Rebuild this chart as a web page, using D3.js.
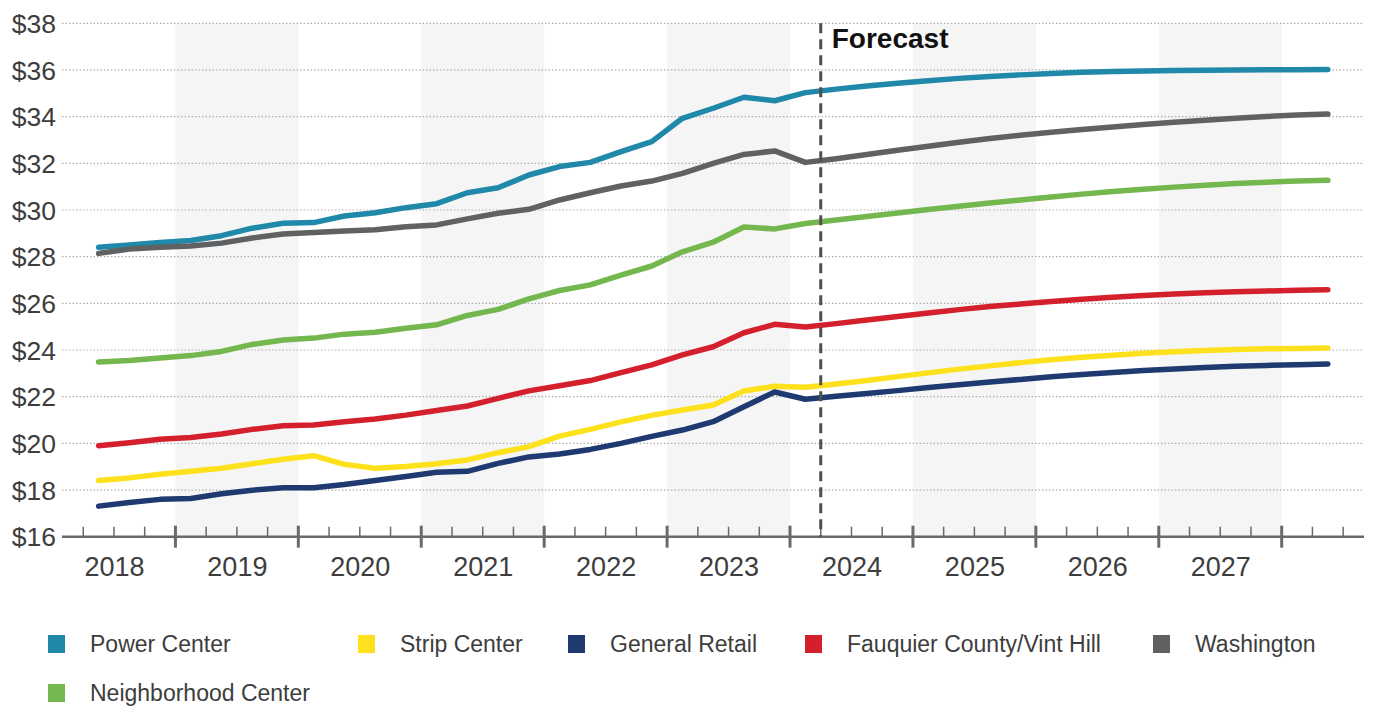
<!DOCTYPE html>
<html>
<head>
<meta charset="utf-8">
<script src="https://cdn.jsdelivr.net/npm/d3@7"></script>
<style>
  html, body { margin: 0; padding: 0; background: #fff; }
  svg { display: block; font-family: "Liberation Sans", Arial, sans-serif; }
</style>
</head>
<body>
<svg id="chart" width="1374" height="707"></svg>
<script>
// Quarterly asking rents ($/sq ft), 2018 Q2 through 2028 Q2; forecast begins after 2024 Q1
const quarters = [
  "2018 Q2","2018 Q3","2018 Q4","2019 Q1","2019 Q2","2019 Q3","2019 Q4","2020 Q1",
  "2020 Q2","2020 Q3","2020 Q4","2021 Q1","2021 Q2","2021 Q3","2021 Q4","2022 Q1",
  "2022 Q2","2022 Q3","2022 Q4","2023 Q1","2023 Q2","2023 Q3","2023 Q4","2024 Q1",
  "2024 Q2","2024 Q3","2024 Q4","2025 Q1","2025 Q2","2025 Q3","2025 Q4","2026 Q1",
  "2026 Q2","2026 Q3","2026 Q4","2027 Q1","2027 Q2","2027 Q3","2027 Q4","2028 Q1",
  "2028 Q2"
];
const yearLabels = ["2018","2019","2020","2021","2022","2023","2024","2025","2026","2027"];
const shadedYears = ["2019","2021","2023","2025","2027"];
const yTicks = [16,18,20,22,24,26,28,30,32,34,36,38];
const forecastStart = "2024 Q2";

const powerCenter = [28.40,28.50,28.61,28.69,28.90,29.22,29.43,29.46,29.74,29.88,30.10,30.27,30.74,30.95,31.50,31.86,32.04,32.50,32.93,33.93,34.36,34.83,34.68,35.03,35.18,35.31,35.43,35.54,35.64,35.72,35.79,35.85,35.90,35.93,35.96,35.98,35.99,36.00,36.01,36.01,36.02];
const stripCenter = [18.41,18.52,18.68,18.80,18.93,19.13,19.32,19.47,19.10,18.93,19.01,19.13,19.29,19.60,19.86,20.31,20.60,20.92,21.20,21.43,21.64,22.24,22.45,22.40,22.54,22.69,22.86,23.02,23.18,23.32,23.46,23.58,23.69,23.78,23.86,23.93,23.98,24.02,24.05,24.07,24.09];
const generalRetail = [17.31,17.47,17.60,17.64,17.84,17.99,18.10,18.10,18.24,18.41,18.58,18.76,18.80,19.14,19.42,19.54,19.74,20.00,20.30,20.57,20.93,21.57,22.20,21.89,22.02,22.14,22.26,22.39,22.51,22.63,22.74,22.85,22.95,23.04,23.12,23.19,23.25,23.30,23.34,23.37,23.40];
const fauquier = [19.90,20.03,20.18,20.25,20.40,20.60,20.75,20.79,20.93,21.04,21.21,21.41,21.60,21.93,22.25,22.47,22.69,23.03,23.36,23.79,24.14,24.74,25.10,24.99,25.13,25.29,25.44,25.59,25.73,25.86,25.97,26.08,26.18,26.26,26.34,26.40,26.45,26.50,26.53,26.56,26.58];
const washington = [28.14,28.33,28.40,28.46,28.58,28.80,28.97,29.04,29.10,29.15,29.28,29.36,29.62,29.86,30.03,30.43,30.74,31.03,31.24,31.57,32.00,32.38,32.53,32.04,32.20,32.38,32.56,32.73,32.90,33.06,33.20,33.33,33.45,33.56,33.66,33.76,33.85,33.93,34.01,34.07,34.11];
const neighborhood = [23.49,23.55,23.66,23.76,23.94,24.24,24.43,24.51,24.68,24.76,24.93,25.08,25.48,25.74,26.19,26.55,26.79,27.21,27.60,28.21,28.62,29.27,29.19,29.42,29.57,29.72,29.87,30.02,30.16,30.30,30.43,30.56,30.68,30.79,30.89,30.98,31.06,31.13,31.19,31.24,31.27];

const seriesNames = ["Power Center","Strip Center","General Retail","Fauquier County/Vint Hill","Washington","Neighborhood Center"];
const seriesValues = [powerCenter, stripCenter, generalRetail, fauquier, washington, neighborhood];
const seriesColors = ["#2088a9","#fde11c","#1e3a70","#d4202d","#5f6163","#75b74f"];

// ---- layout ----
const svg = d3.select("#chart");
const plotTop = 23.3, plotBottom = 536.7, axisLeft = 62, axisRight = 1364;

// time axis measured in quarters elapsed since the start of 2018
const firstYear = +yearLabels[0];
const qIndex = label => {
  const [yr, q] = label.split(" Q");
  return (+yr - firstYear) * 4 + (+q - 1) + 0.5;   // centre of the quarter
};
const x = d3.scaleLinear().domain([0, 40]).range([52.5, 1281.7]);
const y = d3.scaleLinear().domain([16, 38]).range([plotBottom, plotTop]);

// alternating year shading
svg.append("g").selectAll("rect").data(shadedYears).join("rect")
  .attr("x", d => x((+d - firstYear) * 4))
  .attr("width", d => x((+d - firstYear) * 4 + 4) - x((+d - firstYear) * 4))
  .attr("y", y(38))
  .attr("height", y(16) - y(38))
  .attr("fill", "#f5f5f5");

// dotted horizontal gridlines
svg.append("g").selectAll("line").data(yTicks.filter(t => t > 16)).join("line")
  .attr("x1", axisLeft).attr("x2", axisRight)
  .attr("y1", d => y(d)).attr("y2", d => y(d))
  .attr("stroke", "#b0b0b0").attr("stroke-width", 1.2)
  .attr("stroke-dasharray", "1.5 2");

// y labels
const yAxis = svg.append("g")
  .attr("transform", `translate(${axisLeft - 6},0)`)
  .call(d3.axisLeft(y).tickValues(yTicks).tickSize(0).tickPadding(0).tickFormat(d => "$" + d));
yAxis.select(".domain").remove();
yAxis.selectAll("text")
  .attr("font-size", 26.5).attr("fill", "#3d3d3d")
  .attr("font-family", "'Liberation Sans', Arial, sans-serif")
  .attr("dy", "0.35em");

// x axis baseline and quarter ticks
const axisG = svg.append("g");
axisG.append("line")
  .attr("x1", axisLeft).attr("x2", axisRight)
  .attr("y1", plotBottom).attr("y2", plotBottom)
  .attr("stroke", "#6a6a6a").attr("stroke-width", 2.6);
const quarterTicks = d3.range(1, 43).filter(q => x(q) <= axisRight);
axisG.selectAll(".qt").data(quarterTicks).join("line")
  .attr("class", "qt")
  .attr("x1", d => x(d)).attr("x2", d => x(d))
  .attr("y1", d => d % 4 === 0 ? plotBottom - 11 : plotBottom - 10)
  .attr("y2", d => d % 4 === 0 ? plotBottom + 11 : plotBottom)
  .attr("stroke", "#6a6a6a")
  .attr("stroke-width", d => d % 4 === 0 ? 3 : 1.5);

// year labels centred in each year
const xAxis = svg.append("g")
  .attr("transform", `translate(0,${plotBottom + 20})`)
  .call(d3.axisBottom(x)
    .tickValues(yearLabels.map((d, i) => i * 4 + 2))
    .tickSize(0).tickPadding(0)
    .tickFormat((d, i) => yearLabels[i]));
xAxis.select(".domain").remove();
xAxis.selectAll("text")
  .attr("font-size", 27).attr("fill", "#3d3d3d")
  .attr("font-family", "'Liberation Sans', Arial, sans-serif")
  .attr("dy", "0.71em");

// series lines
const line = d3.line()
  .x((d, i) => x(qIndex(quarters[i])))
  .y(d => y(d));
svg.append("g").selectAll("path").data(seriesValues).join("path")
  .attr("d", d => line(d))
  .attr("fill", "none")
  .attr("stroke", (d, i) => seriesColors[i])
  .attr("stroke-width", 5.5)
  .attr("stroke-linecap", "round")
  .attr("stroke-linejoin", "round");

// forecast divider
const fx = x(qIndex(forecastStart) - 0.5);
svg.append("line")
  .attr("x1", fx).attr("x2", fx)
  .attr("y1", plotTop).attr("y2", plotBottom)
  .attr("stroke", "#4f4f4f").attr("stroke-width", 3)
  .attr("stroke-dasharray", "10 6");
svg.append("text")
  .attr("x", fx + 11).attr("y", 48)
  .attr("font-size", 28).attr("font-weight", "bold").attr("fill", "#111")
  .text("Forecast");

// legend
const legendSlots = [[48, 644], [358, 644], [568, 644], [805, 644], [1153, 644], [48, 693]];
const legend = svg.append("g").selectAll("g").data(seriesNames).join("g")
  .attr("transform", (d, i) => `translate(${legendSlots[i][0]},${legendSlots[i][1]})`);
legend.append("rect")
  .attr("x", 0).attr("y", -9).attr("width", 17).attr("height", 18)
  .attr("fill", (d, i) => seriesColors[i]);
legend.append("text")
  .attr("x", 42).attr("y", 8)
  .attr("font-size", 23).attr("fill", "#3d3d3d")
  .text(d => d);
</script>
</body>
</html>
